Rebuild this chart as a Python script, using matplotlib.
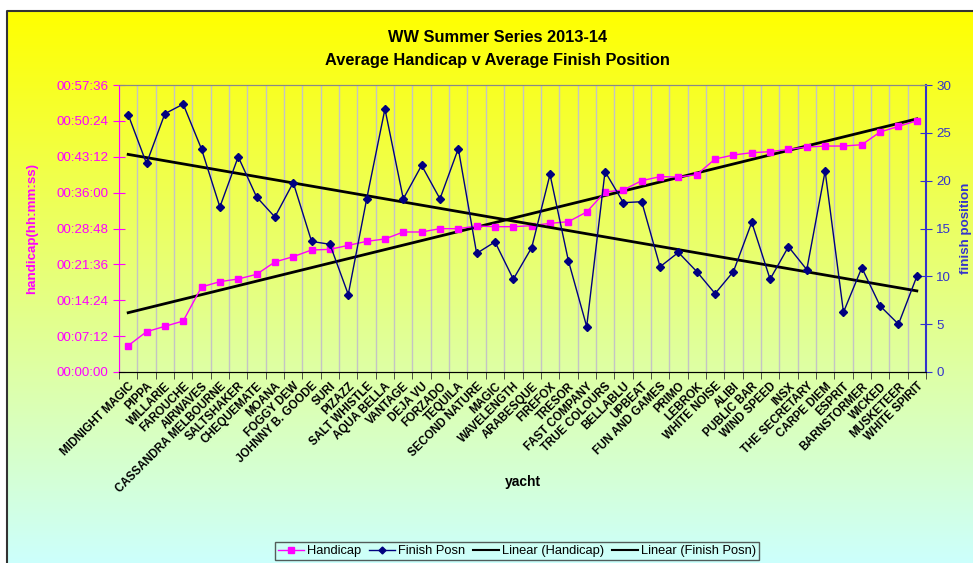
import numpy as np
import matplotlib.pyplot as plt
from matplotlib.lines import Line2D

plt.rcParams['font.family'] = ['Liberation Sans', 'DejaVu Sans']

yachts = ['MIDNIGHT MAGIC', 'PIPPA', 'WILLARIE', 'FAROUCHE', 'AIRWAVES',
          'CASSANDRA MELBOURNE', 'SALTSHAKER', 'CHEQUEMATE', 'MOANA', 'FOGGY DEW',
          'JOHNNY B. GOODE', 'SURI', 'PIZAZZ', 'SALT WHISTLE', 'AQUA BELLA',
          'VANTAGE', 'DEJA VU', 'FORZADO', 'TEQUILA', 'SECOND NATURE', 'MAGIC',
          'WAVELENGTH', 'ARABESQUE', 'FIREFOX', 'TRESOR', 'FAST COMPANY',
          'TRUE COLOURS', 'BELLABLU', 'UPBEAT', 'FUN AND GAMES', 'PRIMO', 'LEBROK',
          'WHITE NOISE', 'ALIBI', 'PUBLIC BAR', 'WIND SPEED', 'INSX',
          'THE SECRETARY', 'CARPE DIEM', 'ESPRIT', 'BARNSTORMER', 'WICKED',
          'MUSKETEER', 'WHITE SPIRIT']

# average handicap in seconds
handicap = [317, 485, 550, 614, 1024, 1088, 1120, 1176, 1325, 1389,
            1469, 1477, 1525, 1573, 1602, 1686, 1686, 1726, 1726, 1758,
            1750, 1750, 1762, 1790, 1810, 1927, 2168, 2192, 2304, 2352,
            2348, 2376, 2565, 2613, 2641, 2653, 2681, 2709, 2721, 2721,
            2737, 2890, 2958, 3026]

# average finish position
finish = [26.9, 21.8, 27.0, 28.0, 23.3, 17.25, 22.5, 18.3, 16.2, 19.8,
          13.65, 13.35, 8.1, 18.05, 27.5, 18.1, 21.6, 18.1, 23.35, 12.4,
          13.6, 9.7, 13.0, 20.65, 11.65, 4.75, 20.95, 17.7, 17.8, 11.0,
          12.5, 10.5, 8.2, 10.5, 15.65, 9.7, 13.1, 10.7, 21.0, 6.25,
          10.9, 6.9, 5.0, 10.0]

x = np.arange(len(yachts))

fig = plt.figure(figsize=(9.73, 5.63), dpi=100)

# gradient background for the chart area
bg = fig.add_axes([0, 0, 1, 1], zorder=-10)
grad = np.linspace(0, 1, 256)[:, None]
top = np.array([1.0, 1.0, 0.0])
bot = np.array([0.8, 1.0, 1.0])
img = top + (bot - top) * grad[:, :, None]
bg.imshow(img, aspect='auto', extent=[7/973, 1.01, -0.01, 1 - 11/563])
bg.set_xlim(0, 1)
bg.set_ylim(0, 1)
bg.plot([7/973, 7/973, 1], [0, 1 - 11/563, 1 - 11/563], color='#333333', lw=1.5)
bg.axis('off')

ax = fig.add_axes([119/973, 1 - 372/563, 807/973, 287/563])
ax.patch.set_alpha(0)
ax2 = ax.twinx()

pink = '#FF00FF'
navy = '#000080'
blue = '#3333CC'

ax.plot(x, handicap, color=pink, marker='s', ms=5, lw=1, zorder=3)
ax2.plot(x, finish, color=navy, marker='D', ms=4.5, lw=1, zorder=3)

# linear trendlines
p1 = np.polyfit(x, handicap, 1)
p2 = np.polyfit(x, finish, 1)
ax.plot(x, np.polyval(p1, x), color='black', lw=2, zorder=2)
ax2.plot(x, np.polyval(p2, x), color='black', lw=2, zorder=2)

ax.set_xlim(-0.5, len(yachts) - 0.5)
ax.set_ylim(0, 3456)
ax2.set_ylim(0, 30)

yt = np.arange(0, 3457, 432)
ax.set_yticks(yt)
ax.set_yticklabels(['%02d:%02d:%02d' % (t // 3600, (t % 3600) // 60, t % 60) for t in yt],
                   color=pink, fontsize=9.6)
ax2.set_yticks(np.arange(0, 31, 5))
ax2.tick_params(axis='y', colors=blue, labelsize=9.6, direction='inout', length=8)
ax.tick_params(axis='y', colors=pink, direction='inout', length=8)

ax.set_xticks(x)
ax.set_xticklabels(yachts, rotation=45, ha='right', rotation_mode='anchor',
                   fontsize=8.3, fontweight='bold')
ax.set_xticks(np.arange(-0.5, len(yachts)), minor=True)
ax.tick_params(axis='x', which='major', length=0, pad=6)
ax.tick_params(axis='x', which='minor', length=5, direction='out', color='#333333')
ax.grid(axis='x', which='minor', color='#C4C4C4', lw=1)

ax.spines['top'].set_color('#888888')
ax2.spines['top'].set_color('#888888')
ax.spines['left'].set_color(pink)
ax2.spines['left'].set_visible(False)
ax2.spines['right'].set_color(blue)
ax2.spines['right'].set_linewidth(1.5)
ax.spines['right'].set_visible(False)
ax.spines['bottom'].set_color('#333333')

ax.set_ylabel('handicap(hh:mm:ss)', color=pink, fontsize=9.6, fontweight='bold')
ax.yaxis.set_label_coords(-0.1, 0.5)
ax2.set_ylabel('finish position', color=blue, fontsize=9.6, fontweight='bold', labelpad=6)
ax.set_xlabel('yacht', fontsize=10, fontweight='bold')
ax.xaxis.set_label_coords(0.5, -0.36)

fig.text(0.511, 1 - 37/563, 'WW Summer Series 2013-14', ha='center', va='center',
         fontsize=11.8, fontweight='bold')
fig.text(0.511, 1 - 60/563, 'Average Handicap v Average Finish Position', ha='center',
         va='center', fontsize=11.8, fontweight='bold')

handles = [Line2D([], [], color=pink, marker='s', ms=4, lw=1),
           Line2D([], [], color=navy, marker='D', ms=3.5, lw=1),
           Line2D([], [], color='black', lw=1.5),
           Line2D([], [], color='black', lw=1.5)]
leg = fig.legend(handles, ['Handicap', 'Finish Posn', 'Linear (Handicap)', 'Linear (Finish Posn)'],
                 loc='center', bbox_to_anchor=(517/973, 1 - 551/563), ncol=4,
                 fontsize=9.3, frameon=True, fancybox=False, handlelength=2.0,
                 handletextpad=0.25, columnspacing=0.6, borderpad=0.25, borderaxespad=0)
leg.get_frame().set_edgecolor('#333333')
leg.get_frame().set_facecolor('none')
leg.get_frame().set_linewidth(1)

fig.savefig('out.png', dpi=100)
